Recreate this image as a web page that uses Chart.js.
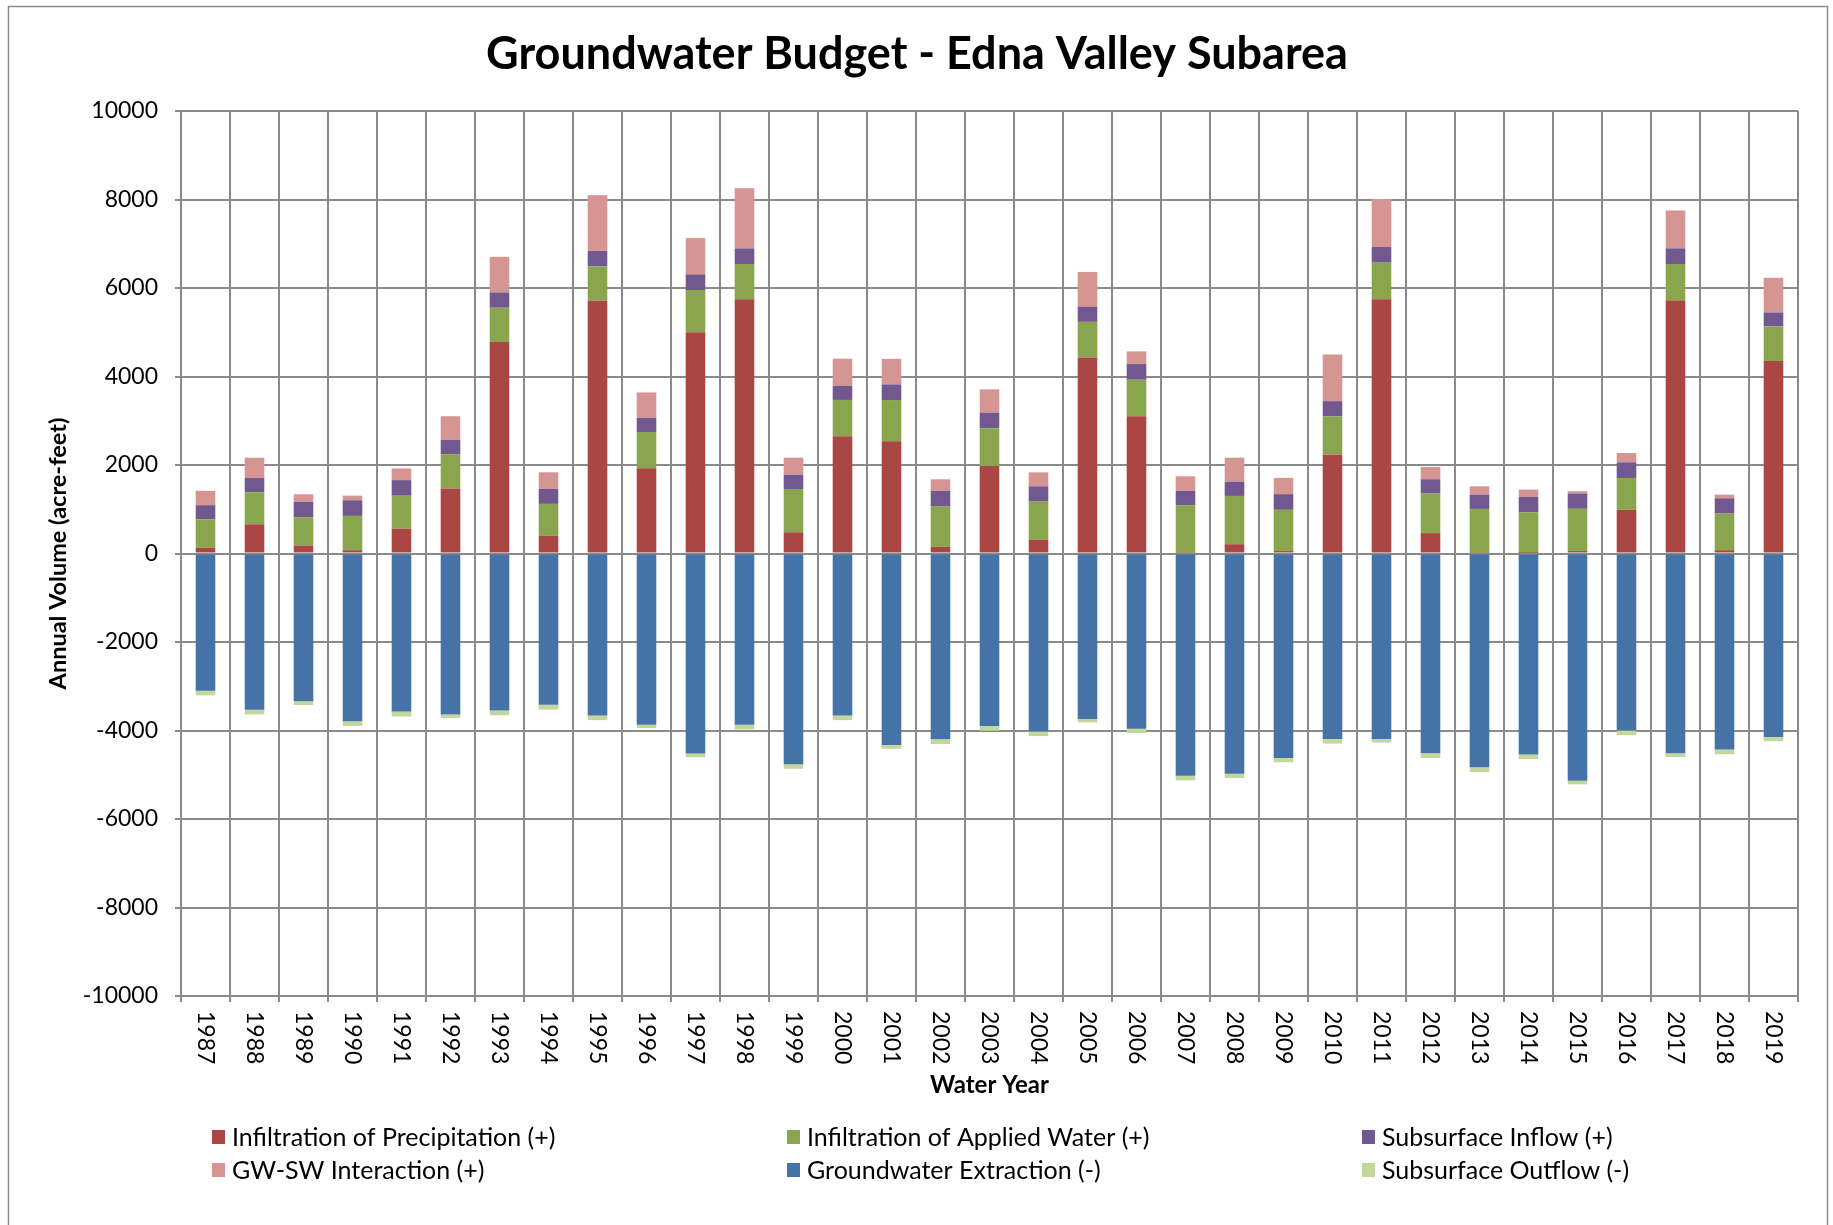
<!DOCTYPE html>
<html><head><meta charset="utf-8">
<script src="https://cdn.jsdelivr.net/npm/chart.js@4.4.1/dist/chart.umd.min.js"></script>
<style>html,body{margin:0;padding:0;background:#fff;}canvas{display:block;}</style>
</head><body>
<canvas id="c" width="1833" height="1225"></canvas>
<script>
const titleText = 'Groundwater Budget - Edna Valley Subarea';
const yAxisTitle = 'Annual Volume (acre-feet)';
const xAxisTitle = 'Water Year';
const years = ['1987','1988','1989','1990','1991','1992','1993','1994','1995','1996','1997','1998','1999','2000','2001','2002','2003','2004','2005','2006','2007','2008','2009','2010','2011','2012','2013','2014','2015','2016','2017','2018','2019'];
const yTicks = [-10000,-8000,-6000,-4000,-2000,0,2000,4000,6000,8000,10000];
const seriesNames = ['Infiltration of Precipitation (+)','Infiltration of Applied Water (+)','Subsurface Inflow (+)','GW-SW Interaction (+)','Groundwater Extraction (-)','Subsurface Outflow (-)'];
const precipitation = [130,660,180,75,560,1470,4780,400,5720,1925,5000,5745,480,2650,2535,150,1980,315,4430,3100,15,210,55,2240,5745,460,15,10,55,985,5715,75,4350];
const appliedWater = [640,722,640,775,745,775,774,721,767,820,955,797,978,820,933,910,850,857,805,827,1075,1091,932,857,827,895,993,922,955,722,827,827,782];
const subsurfaceInflow = [323,323,346,353,353,323,346,339,353,323,353,354,323,323,353,354,353,346,346,354,324,323,354,346,354,323,323,346,346,353,354,346,315];
const gwswInteraction = [324,459,173,105,264,534,805,376,1256,572,820,1361,384,609,579,263,526,316,782,286,331,542,368,1053,1083,278,188,166,52,211,857,83,783];
const gwExtraction = [-3100,-3530,-3340,-3790,-3570,-3640,-3550,-3420,-3660,-3870,-4520,-3870,-4760,-3660,-4330,-4200,-3900,-4020,-3740,-3960,-5020,-4975,-4620,-4190,-4190,-4515,-4830,-4545,-5135,-4000,-4515,-4430,-4145];
const subsurfaceOutflow = [-105,-106,-83,-106,-113,-76,-105,-106,-105,-76,-84,-106,-105,-105,-83,-106,-105,-106,-76,-98,-106,-99,-98,-106,-83,-106,-106,-98,-83,-106,-83,-106,-98];

const colors = ['#AA4643','#89A54E','#71588F','#D59593','#4572A7','#C3D69B'];
const seriesData = [precipitation, appliedWater, subsurfaceInflow, gwswInteraction, gwExtraction, subsurfaceOutflow];
const gridColor = '#8a8a8a';
const FONT = 'Lato';

const bgPlugin = {
  id:'bg',
  beforeDraw(chart){const c=chart.ctx;c.save();c.fillStyle='#fff';c.fillRect(0,0,chart.width,chart.height);c.restore();}
};
const decoPlugin = {
  id:'deco',
  afterDraw(chart){
    const ctx = chart.ctx, xs = chart.scales.x, area = chart.chartArea;
    ctx.save();
    ctx.strokeStyle = '#8c8c8c'; ctx.lineWidth = 1.5;
    ctx.strokeRect(8.5, 6.5, 1819, 1240);
    // title
    ctx.font = 'bold 45px ' + FONT; ctx.fillStyle = '#000';
    ctx.textAlign = 'center'; ctx.textBaseline = 'middle';
    ctx.fillText(titleText, 917, 54);
    // rotated x labels
    ctx.font = '23px ' + FONT;
    ctx.textAlign = 'left'; ctx.textBaseline = 'middle';
    chart.data.labels.forEach((lab,i)=>{
      const x = xs.getPixelForTick(i);
      ctx.save(); ctx.translate(x, area.bottom + 15); ctx.rotate(Math.PI/2);
      ctx.fillText(lab, 0, 0); ctx.restore();
    });
    // legend
    const colX = [212, 787, 1362], rowY = [1137, 1170];
    ctx.font = '25px ' + FONT; ctx.textBaseline = 'middle';
    chart.data.datasets.forEach((ds,i)=>{
      const cx = colX[i%3], cy = rowY[Math.floor(i/3)];
      ctx.fillStyle = ds.backgroundColor;
      ctx.fillRect(cx, cy-7, 13, 14);
      ctx.fillStyle = '#000';
      ctx.fillText(ds.label, cx+20, cy+1);
    });
    ctx.restore();
  }
};

new Chart(document.getElementById('c'), {
  type:'bar',
  data:{
    labels: years,
    datasets: seriesNames.map((n,i)=>({label:n, data:seriesData[i], backgroundColor:colors[i], borderWidth:0, categoryPercentage:1, barPercentage:0.4}))
  },
  options:{
    responsive:false, animation:false, devicePixelRatio:1,
    layout:{padding:{top:111,left:0,right:35,bottom:0}},
    plugins:{
      legend:{display:false}, tooltip:{enabled:false}, title:{display:false}
    },
    scales:{
      x:{stacked:true,
        grid:{color:gridColor,lineWidth:2,tickLength:6,offset:true},
        border:{color:gridColor,width:2},
        ticks:{display:false},
        title:{display:true,text:xAxisTitle,color:'#000',font:{family:FONT,size:24,weight:'bold'},padding:{top:0,bottom:125}},
        afterFit(s){s.height=229;}
      },
      y:{stacked:true,min:yTicks[0],max:yTicks[yTicks.length-1],
        afterBuildTicks(s){s.ticks = yTicks.map(v=>({value:v}));},
        ticks:{color:'#000',font:{family:FONT,size:23},padding:17,callback:v=>String(v)},
        grid:{color:gridColor,lineWidth:2,tickLength:6},
        border:{color:gridColor,width:2},
        title:{display:true,text:yAxisTitle,color:'#000',font:{family:FONT,size:23.5,weight:'bold'},padding:{top:44,bottom:0}},
        afterFit(s){s.width=181;}
      }
    }
  },
  plugins:[bgPlugin, decoPlugin]
});
</script>
</body></html>
